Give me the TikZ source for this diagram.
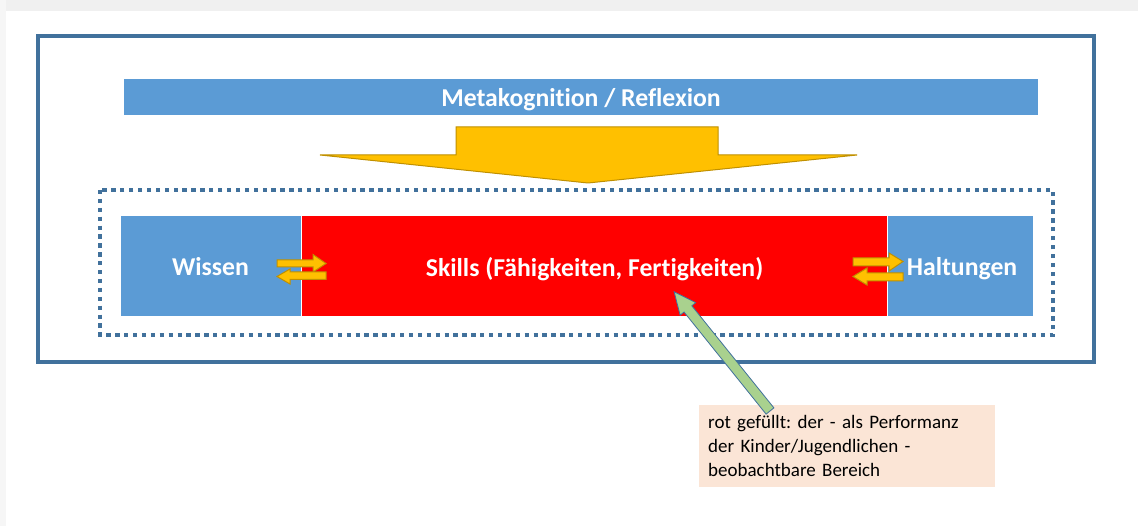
\documentclass[tikz,border=0pt]{standalone}
\usepackage{fontspec}
\setmainfont[Ligatures=NoCommon]{Carlito}
\frenchspacing
\definecolor{frameblue}{HTML}{41719C}
\definecolor{boxblue}{HTML}{5B9BD5}
\definecolor{gold}{HTML}{FFC000}
\definecolor{golddark}{HTML}{C09000}
\definecolor{skillred}{HTML}{FF0000}
\definecolor{notefill}{HTML}{FBE5D6}
\definecolor{arrowgreen}{HTML}{A9D18E}
\definecolor{bandgray}{HTML}{F0F0F0}
\tikzset{
  bluebox/.style={fill=boxblue, draw=white, line width=1pt, inner sep=0pt, text depth=0pt, text=white, font=\bfseries\fontsize{25.7}{28}\selectfont},
  redbox/.style={fill=skillred, draw=white, line width=1pt, inner sep=0pt, text depth=0pt, text=white, font=\bfseries\fontsize{25.7}{28}\selectfont},
  goldarrow/.style={fill=gold, draw=golddark, line width=1pt, line join=miter},
  notebox/.style={fill=notefill, inner sep=0pt, align=left, text=black, font=\fontsize{19}{24}\selectfont},
  greenarrow/.style={fill=arrowgreen, draw=frameblue, line width=0.8pt, line join=miter}
}
\begin{document}
\begin{tikzpicture}[x=1pt,y=-1pt]
\useasboundingbox (0,0) rectangle (1138,526);
\fill[white] (0,0) rectangle (1138,526);
\fill[bandgray] (0,0) rectangle (1138,11);
\fill[bandgray!60] (0,0) rectangle (6,526);
% outer frame
\draw[frameblue, line width=4pt] (38,36.5) rectangle (1094,362);
% metakognition bar
\node[bluebox, minimum width=914pt, minimum height=36pt, draw=none] (meta) at (581,97) {Metakognition / Reflexion};
% big down arrow
\draw[goldarrow] (456,127) -- (718,127) -- (718,155) -- (857,155) -- (588,183) -- (320,155) -- (456,155) -- cycle;
% dotted frame
\draw[frameblue, line width=3.5pt, dash pattern=on 4.3pt off 4.6pt] (100,190) rectangle (1053,335);
% boxes
\node[bluebox, minimum width=181pt, minimum height=101pt] (wissen) at (210.5,266.5) {Wissen};
\node[redbox, minimum width=587pt, minimum height=101pt] (skills) at (594.5,266.5) {Skills (Fähigkeiten, Fertigkeiten)};
\node[bluebox, minimum width=146pt, minimum height=101pt] (haltungen) at (960.5,266.5) {};
\node[text=white, font=\bfseries\fontsize{25.7}{28}\selectfont, inner sep=0pt, text depth=0pt] (haltlabel) at (962,266.5) {Haltungen};
% small double arrows left
\draw[goldarrow] (277,260) -- (313,260) -- (313,254.5) -- (326,263.5) -- (313,272) -- (313,267) -- (277,267) -- cycle;
\draw[goldarrow] (326,272) -- (290,272) -- (290,269) -- (277,276.5) -- (290,284) -- (290,279.5) -- (326,279.5) -- cycle;
% small double arrows right
\draw[goldarrow] (853,258) -- (889,258) -- (889,253) -- (903,261.5) -- (889,271) -- (889,266) -- (853,266) -- cycle;
\draw[goldarrow] (903,273) -- (867,273) -- (867,268) -- (853,276.5) -- (867,285) -- (867,281) -- (903,281) -- cycle;
% note
\node[notebox, minimum width=296pt, minimum height=82pt, anchor=north west, inner xsep=9pt, text width=278pt] (note) at (699,405) {rot gefüllt: der - als Performanz\\der Kinder/Jugendlichen -\\beobachtbare Bereich};
% green arrow from note to skills text
\coordinate (gtail) at (770,411);
\coordinate (gtip) at (675,291);
\begin{scope}[shift={(gtail)}, rotate=128.8]
\draw[greenarrow] (0,-5) -- (131,-5) -- (131,-10) -- (153,0) -- (131,10) -- (131,5) -- (0,5) -- cycle;
\end{scope}
\end{tikzpicture}
\end{document}
